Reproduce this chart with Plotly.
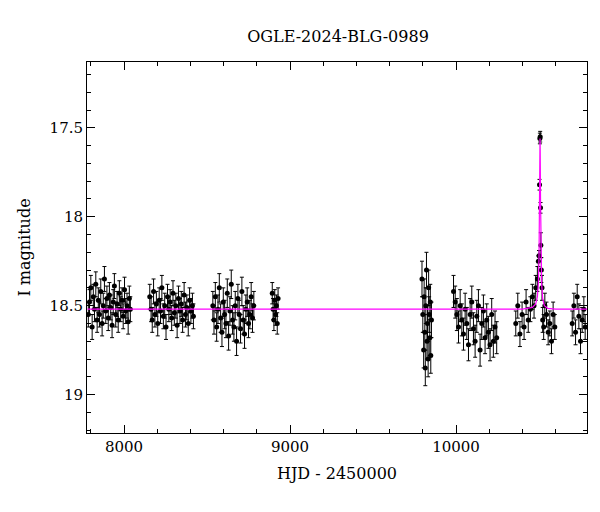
import plotly.graph_objects as go

hjd = [7785,7792,7800,7808,7815,7822,7830,7838,7845,7852,7860,7868,7875,7882,7890,7897,7905,7912,7920,7928,7935,7942,7950,7958,7965,7972,7980,7988,7995,8003,8010,8018,8025,8032,8038,
       8155,8163,8170,8178,8186,8195,8203,8212,8220,8228,8237,8245,8253,8262,8270,8278,8287,8295,8303,8312,8320,8328,8337,8345,8353,8362,8370,8378,8387,8395,8403,8412,8418,
       8535,8542,8550,8558,8566,8574,8582,8590,8598,8606,8614,8622,8630,8638,8646,8654,8662,8670,8678,8686,8694,8702,8710,8718,8726,8734,8742,8750,8758,8766,8774,8782,
       8893,8898,8903,8908,8913,8918,8923,8928,
       9795,9800,9805,9808,9812,9815,9818,9822,9825,9828,9832,9835,9838,9842,9845,9848,9852,
       9985,9995,10005,10015,10025,10035,10045,10055,10065,10075,10085,10095,10105,10115,10125,10135,10145,10155,10165,10175,10185,10195,10205,10215,10225,10235,10245,
       10360,10372,10385,10398,10410,10422,10435,10448,10460,10470,10480,10490,10496,10500,10503,10505,10507,10509,10511,10514,10518,10522,10528,10535,10545,10555,10565,10575,10585,10595,
       10700,10710,10720,10730,10740,10750,10760,10770,10778]
mag = [18.55,18.48,18.40,18.62,18.45,18.52,18.38,18.58,18.47,18.55,18.42,18.60,18.50,18.35,18.53,18.46,18.57,18.44,18.51,18.61,18.48,18.39,18.55,18.49,18.58,18.43,18.52,18.47,18.56,18.41,18.53,18.50,18.59,18.46,18.52,
       18.45,18.52,18.58,18.42,18.55,18.49,18.60,18.47,18.53,18.40,18.56,18.50,18.62,18.45,18.52,18.48,18.57,18.43,18.54,18.50,18.61,18.46,18.53,18.49,18.58,18.44,18.55,18.51,18.60,18.47,18.53,18.50,18.56,
       18.50,18.58,18.45,18.62,18.52,18.40,18.57,18.65,18.48,18.55,18.60,18.43,18.67,18.53,18.38,18.58,18.62,18.50,18.70,18.46,18.55,18.63,18.42,18.58,18.66,18.52,18.48,18.60,18.55,18.45,18.57,18.50,
       18.43,18.52,18.58,18.47,18.55,18.50,18.60,18.46,
       18.35,18.55,18.75,18.45,18.65,18.85,18.50,18.30,18.70,18.60,18.80,18.40,18.55,18.68,18.48,18.78,18.58,
       18.42,18.48,18.55,18.62,18.50,18.58,18.66,18.52,18.60,18.72,18.55,18.48,18.63,18.70,18.56,18.50,18.75,18.60,18.53,18.68,18.58,18.65,18.72,18.55,18.70,18.62,18.68,
       18.60,18.50,18.66,18.55,18.62,18.48,18.58,18.52,18.45,18.50,18.40,18.35,18.25,18.22,17.82,17.56,17.55,17.95,18.16,18.30,18.40,18.58,18.62,18.50,18.55,18.65,18.60,18.70,18.55,18.62,
       18.60,18.50,18.65,18.45,18.56,18.70,18.58,18.52,18.62]
err = [0.07]*35 + [0.07]*33 + [0.08]*32 + [0.06]*8 + [0.10]*17 + [0.09]*27 + [0.07]*12 + [0.03]*6 + [0.07]*12 + [0.07]*9

model_x = [7780,10400,10460,10480,10490,10496,10500,10503,10505,10506,10507,10509,10512,10516,10522,10532,10552,10600,10790]
model_y = [18.52,18.52,18.51,18.49,18.45,18.38,18.22,17.95,17.70,17.56,17.62,17.90,18.20,18.38,18.46,18.50,18.515,18.52,18.52]

fig = go.Figure()
fig.add_trace(go.Scatter(x=hjd, y=mag, mode="markers",
                         marker=dict(color="black", size=5),
                         error_y=dict(type="data", array=err, color="black", thickness=1, width=2)))
fig.add_trace(go.Scatter(x=model_x, y=model_y, mode="lines", line=dict(color="magenta", width=1.2)))

font = dict(family="DejaVu Serif, serif", color="black")
axcommon = dict(showgrid=False, zeroline=False, showline=True, linecolor="black", mirror="allticks",
                ticks="inside", ticklen=8, tickcolor="black", minor=dict(ticks="inside", ticklen=4, tickcolor="black"),
                tickfont=dict(size=15, **font), automargin=False)
fig.update_layout(
    width=600, height=512, showlegend=False, plot_bgcolor="white", paper_bgcolor="white",
    margin=dict(l=79, r=21, t=54, b=87),
    title=dict(text="OGLE-2024-BLG-0989", x=0.55, y=0.955, xanchor="center", font=dict(size=16, **font)),
    xaxis=dict(range=[7777, 10789], dtick=1000, minor_dtick=200, tickformat="d",
               title=dict(text="HJD - 2450000", font=dict(size=16, **font), standoff=12), **axcommon),
    yaxis=dict(range=[19.216, 17.13], dtick=0.5, minor_dtick=0.1,
               title=dict(text="I magnitude", font=dict(size=16, **font), standoff=14), **axcommon),
)
fig.write_html("out.html")
